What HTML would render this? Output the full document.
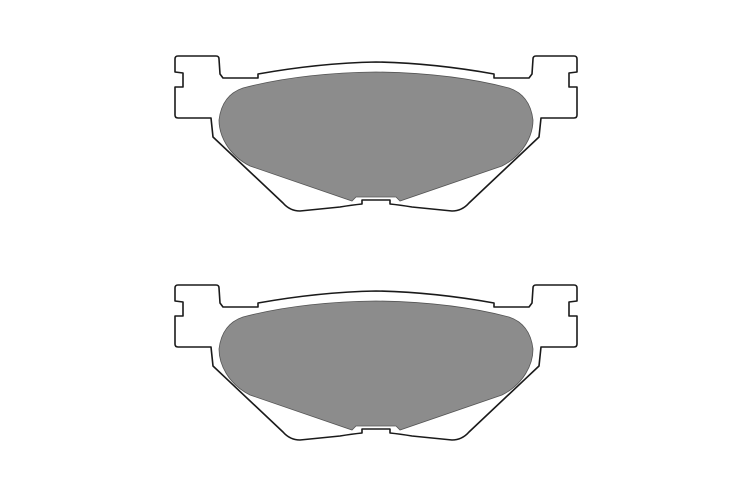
<!DOCTYPE html>
<html><head><meta charset="utf-8"><style>
html,body{margin:0;padding:0;background:#fff;}
svg{display:block;}
</style></head><body>
<svg width="750" height="500" viewBox="0 0 750 500">
<defs>
<g id="pad">
<path fill="#fff" stroke="#1a1a1a" stroke-width="1.6" stroke-linejoin="round"
d="M376,62 Q320,63 258,74 L258,78 L223,78 L220,74 L219,59 Q219,56 216,56 L178,56 Q175,56 175,59 L175,72 L183,73 L183,87 L175,87 L175,115 Q175,118 178,118 L211,118 L213,137 L283,203 Q290,211 300,211 L340,207 Q352,205 362,204 L362,200 L390,200 L390,204 Q400,205 412,207 L452,211 Q462,211 469,203 L539,137 L541,118 L574,118 Q577,118 577,115 L577,87 L569,87 L569,73 L577,72 L577,59 Q577,56 574,56 L536,56 Q533,56 533,59 L532,74 L529,78 L494,78 L494,74 Q432,63 376,62 Z"/>
<path fill="#8c8c8c" stroke="#555" stroke-width="0.8"
d="M376,72 Q300,73 243,88 Q222,95 219,120 C219,135 228,155 250,166 L352,201 L356,197 L396,197 L400,201 L502,166 C524,155 533,135 533,120 Q530,95 509,88 Q452,73 376,72 Z"/>
</g>
</defs>
<use href="#pad"/>
<use href="#pad" transform="translate(0,229)"/>
</svg>
</body></html>
